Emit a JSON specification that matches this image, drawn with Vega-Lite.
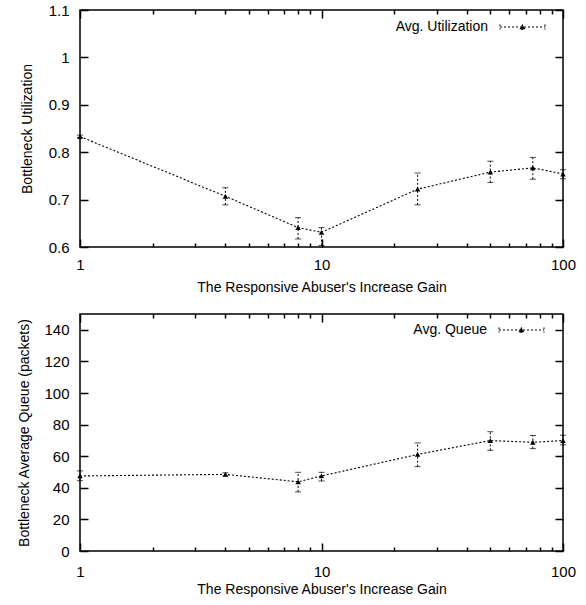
{
  "$schema": "https://vega.github.io/schema/vega-lite/v6.json",
  "background": "white",
  "padding": {"top": 2, "left": 17, "right": 5, "bottom": 5},
  "config": {
    "font": "Liberation Sans",
    "view": {"stroke": "black", "strokeWidth": 1.5},
    "axis": {
      "domain": false,
      "grid": false,
      "labelColor": "black",
      "labelFont": "Liberation Sans",
      "labelFontSize": 15,
      "labelFlush": false,
      "titleColor": "black",
      "titleFont": "Liberation Sans",
      "titleFontSize": 14,
      "titleFontWeight": "normal"
    },
    "legend": {
      "labelFont": "Liberation Sans",
      "labelFontSize": 14,
      "labelColor": "black"
    }
  },
  "datasets": {
    "util": [
      {"gain": 1, "value": 0.833, "lo": 0.831, "hi": 0.836, "series": "Avg. Utilization"},
      {"gain": 4, "value": 0.707, "lo": 0.689, "hi": 0.725, "series": "Avg. Utilization"},
      {"gain": 8, "value": 0.641, "lo": 0.617, "hi": 0.662, "series": "Avg. Utilization"},
      {"gain": 10, "value": 0.631, "lo": 0.603, "hi": 0.641, "series": "Avg. Utilization"},
      {"gain": 25, "value": 0.722, "lo": 0.689, "hi": 0.756, "series": "Avg. Utilization"},
      {"gain": 50, "value": 0.758, "lo": 0.736, "hi": 0.781, "series": "Avg. Utilization"},
      {"gain": 75, "value": 0.767, "lo": 0.743, "hi": 0.789, "series": "Avg. Utilization"},
      {"gain": 100, "value": 0.754, "lo": 0.744, "hi": 0.763, "series": "Avg. Utilization"}
    ],
    "queue": [
      {"gain": 1, "value": 47.5, "lo": 44.5, "hi": 50.7, "series": "Avg. Queue"},
      {"gain": 4, "value": 48.5, "lo": 47.5, "hi": 49.5, "series": "Avg. Queue"},
      {"gain": 8, "value": 43.8, "lo": 37.4, "hi": 49.8, "series": "Avg. Queue"},
      {"gain": 10, "value": 47.5, "lo": 44.3, "hi": 49.8, "series": "Avg. Queue"},
      {"gain": 25, "value": 61.1, "lo": 53.4, "hi": 68.4, "series": "Avg. Queue"},
      {"gain": 50, "value": 69.9, "lo": 63.7, "hi": 75.5, "series": "Avg. Queue"},
      {"gain": 75, "value": 68.8, "lo": 64.8, "hi": 73.1, "series": "Avg. Queue"},
      {"gain": 100, "value": 69.9, "lo": 67.2, "hi": 73.3, "series": "Avg. Queue"}
    ]
  },
  "resolve": {"scale": {"color": "independent"}, "legend": {"color": "independent"}},
  "spacing": 17,
  "vconcat": [
    {
      "width": 483,
      "height": 237,
      "data": {"name": "util"},
      "layer": [
        {
          "mark": {"type": "line", "color": "black", "strokeDash": [2, 2], "strokeWidth": 1.1},
          "encoding": {
            "x": {
              "field": "gain", "type": "quantitative",
              "scale": {"type": "log", "domain": [1, 100], "nice": false},
              "axis": {
                "orient": "bottom", "tickSize": -8, "tickColor": "black", "tickWidth": 1.5,
                "title": "The Responsive Abuser's Increase Gain",
                "values": [1, 10, 100], "format": "d",
                "labelPadding": 18, "titlePadding": 8
              }
            },
            "y": {
              "field": "value", "type": "quantitative",
              "scale": {"domain": [0.6, 1.1], "nice": false, "zero": false},
              "axis": {
                "orient": "left", "tickSize": -8, "tickColor": "black", "tickWidth": 1.5,
                "title": "Bottleneck Utilization",
                "values": [0.6, 0.7, 0.8, 0.9, 1.0, 1.1], "format": "~g",
                "labelPadding": 19, "titlePadding": 14
              }
            },
            "color": {
              "field": "series", "type": "nominal",
              "scale": {"range": ["black"]},
              "legend": {
                "orient": "none", "legendX": 415, "legendY": 10,
                "title": null,
                "symbolType": "M-1,0L21.5,0M-1,-1.3L-1,1.3M21.5,-1.3L21.5,1.3M9,1.1L10.2,-1.2L11.4,1.1Z",
                "symbolSize": 16, "symbolStrokeWidth": 1, "symbolDash": [2, 2],
                "symbolStrokeColor": "black", "symbolFillColor": "black",
                "labelAlign": "right", "labelOffset": -21
              }
            }
          }
        },
        {
          "mark": {"type": "rule", "color": "black", "strokeDash": [2, 2], "strokeWidth": 1},
          "encoding": {
            "x": {
              "field": "gain", "type": "quantitative",
              "axis": {
                "orient": "bottom", "tickSize": -4, "tickColor": "black", "tickWidth": 1.5,
                "labels": false, "title": null,
                "values": [2, 3, 4, 5, 6, 7, 8, 9, 20, 30, 40, 50, 60, 70, 80, 90]
              }
            },
            "y": {
              "field": "lo", "type": "quantitative",
              "axis": {
                "orient": "right", "tickSize": -8, "tickColor": "black", "tickWidth": 1.5,
                "labels": false, "title": null,
                "values": [0.6, 0.7, 0.8, 0.9, 1.0, 1.1]
              }
            },
            "y2": {"field": "hi"}
          }
        },
        {
          "mark": {"type": "tick", "orient": "horizontal", "color": "black", "size": 6, "thickness": 1},
          "encoding": {
            "x": {
              "field": "gain", "type": "quantitative",
              "axis": {
                "orient": "top", "tickSize": -8, "tickColor": "black", "tickWidth": 1.5,
                "labels": false, "title": null,
                "values": [1, 10, 100]
              }
            },
            "y": {"field": "lo", "type": "quantitative", "axis": null}
          }
        },
        {
          "mark": {"type": "tick", "orient": "horizontal", "color": "black", "size": 6, "thickness": 1},
          "encoding": {
            "x": {
              "field": "gain", "type": "quantitative",
              "axis": {
                "orient": "top", "tickSize": -4, "tickColor": "black", "tickWidth": 1.5,
                "labels": false, "title": null,
                "values": [2, 3, 4, 5, 6, 7, 8, 9, 20, 30, 40, 50, 60, 70, 80, 90]
              }
            },
            "y": {"field": "hi", "type": "quantitative", "axis": null}
          }
        },
        {
          "mark": {"type": "point", "shape": "triangle-up", "filled": true, "color": "black", "size": 30, "opacity": 1},
          "encoding": {
            "x": {"field": "gain", "type": "quantitative", "axis": null},
            "y": {"field": "value", "type": "quantitative", "axis": null}
          }
        }
      ],
      "resolve": {"axis": {"x": "independent", "y": "independent"}}
    },
    {
      "width": 483,
      "height": 237,
      "data": {"name": "queue"},
      "layer": [
        {
          "mark": {"type": "line", "color": "black", "strokeDash": [2, 2], "strokeWidth": 1.1},
          "encoding": {
            "x": {
              "field": "gain", "type": "quantitative",
              "scale": {"type": "log", "domain": [1, 100], "nice": false},
              "axis": {
                "orient": "bottom", "tickSize": -8, "tickColor": "black", "tickWidth": 1.5,
                "title": "The Responsive Abuser's Increase Gain",
                "values": [1, 10, 100], "format": "d",
                "labelPadding": 21, "titlePadding": 3
              }
            },
            "y": {
              "field": "value", "type": "quantitative",
              "scale": {"domain": [0, 150], "nice": false},
              "axis": {
                "orient": "left", "tickSize": -8, "tickColor": "black", "tickWidth": 1.5,
                "title": "Bottleneck Average Queue (packets)",
                "values": [0, 20, 40, 60, 80, 100, 120, 140],
                "labelPadding": 19, "titlePadding": 12
              }
            },
            "color": {
              "field": "series", "type": "nominal",
              "scale": {"range": ["black"]},
              "legend": {
                "orient": "none", "legendX": 414, "legendY": 9,
                "title": null,
                "symbolType": "M-1,0L21.5,0M-1,-1.3L-1,1.3M21.5,-1.3L21.5,1.3M9,1.1L10.2,-1.2L11.4,1.1Z",
                "symbolSize": 16, "symbolStrokeWidth": 1, "symbolDash": [2, 2],
                "symbolStrokeColor": "black", "symbolFillColor": "black",
                "labelAlign": "right", "labelOffset": -21
              }
            }
          }
        },
        {
          "mark": {"type": "rule", "color": "black", "strokeDash": [2, 2], "strokeWidth": 1},
          "encoding": {
            "x": {
              "field": "gain", "type": "quantitative",
              "axis": {
                "orient": "bottom", "tickSize": -4, "tickColor": "black", "tickWidth": 1.5,
                "labels": false, "title": null,
                "values": [2, 3, 4, 5, 6, 7, 8, 9, 20, 30, 40, 50, 60, 70, 80, 90]
              }
            },
            "y": {
              "field": "lo", "type": "quantitative",
              "axis": {
                "orient": "right", "tickSize": -8, "tickColor": "black", "tickWidth": 1.5,
                "labels": false, "title": null,
                "values": [0, 20, 40, 60, 80, 100, 120, 140]
              }
            },
            "y2": {"field": "hi"}
          }
        },
        {
          "mark": {"type": "tick", "orient": "horizontal", "color": "black", "size": 6, "thickness": 1},
          "encoding": {
            "x": {
              "field": "gain", "type": "quantitative",
              "axis": {
                "orient": "top", "tickSize": -8, "tickColor": "black", "tickWidth": 1.5,
                "labels": false, "title": null,
                "values": [1, 10, 100]
              }
            },
            "y": {"field": "lo", "type": "quantitative", "axis": null}
          }
        },
        {
          "mark": {"type": "tick", "orient": "horizontal", "color": "black", "size": 6, "thickness": 1},
          "encoding": {
            "x": {
              "field": "gain", "type": "quantitative",
              "axis": {
                "orient": "top", "tickSize": -4, "tickColor": "black", "tickWidth": 1.5,
                "labels": false, "title": null,
                "values": [2, 3, 4, 5, 6, 7, 8, 9, 20, 30, 40, 50, 60, 70, 80, 90]
              }
            },
            "y": {"field": "hi", "type": "quantitative", "axis": null}
          }
        },
        {
          "mark": {"type": "point", "shape": "triangle-up", "filled": true, "color": "black", "size": 30, "opacity": 1},
          "encoding": {
            "x": {"field": "gain", "type": "quantitative", "axis": null},
            "y": {"field": "value", "type": "quantitative", "axis": null}
          }
        }
      ],
      "resolve": {"axis": {"x": "independent", "y": "independent"}}
    }
  ]
}
